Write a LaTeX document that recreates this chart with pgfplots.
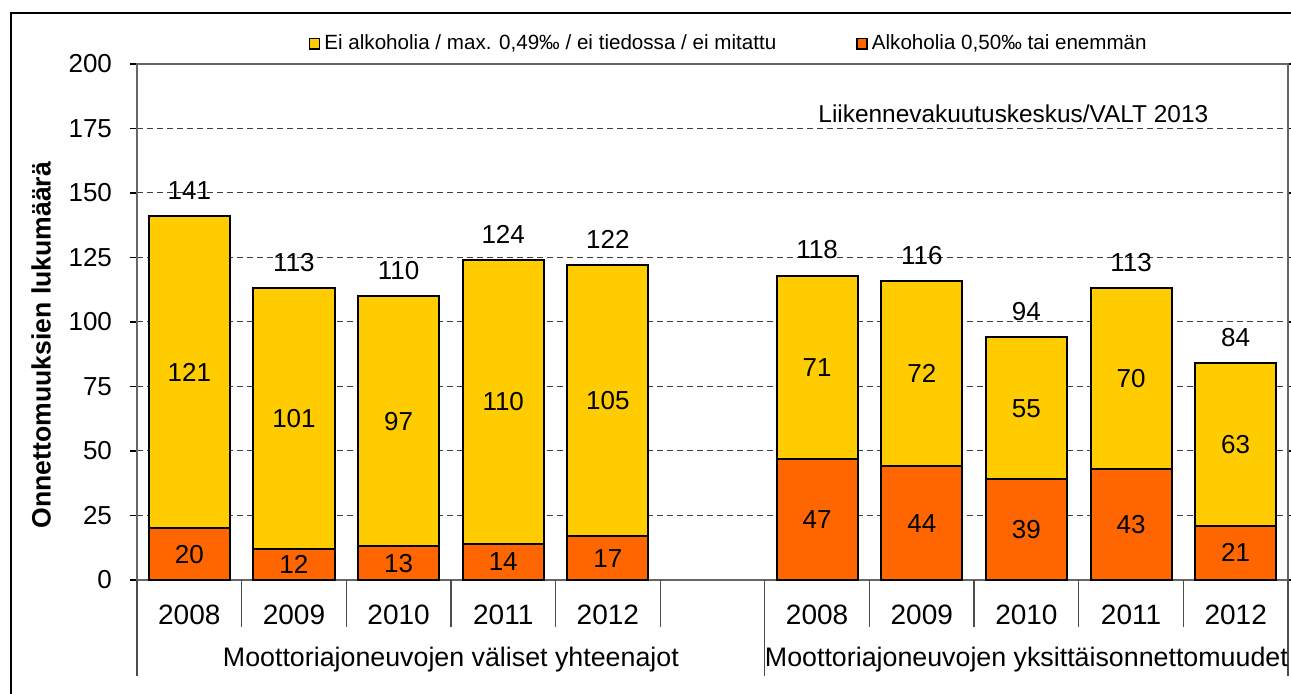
\documentclass[border=0pt]{standalone}
\usepackage{pgfplots}
\pgfplotsset{compat=1.18}
\usepackage{fontspec}
\setmainfont{Liberation Sans}
\definecolor{ylw}{HTML}{FFCC00}
\definecolor{org}{HTML}{FF6600}
\begin{document}
\begin{tikzpicture}
\useasboundingbox (0,0) rectangle (645.5pt,347pt);
\draw[black, line width=0.8pt] (5.5pt,-2pt) -- (5.5pt,340.5pt) -- (648pt,340.5pt);
\begin{axis}[
  at={(68.5pt,57pt)}, anchor=south west,
  width=575.5pt, height=258pt, scale only axis,
  xmin=-0.5, xmax=10.5, ymin=0, ymax=200,
  ytick={0,25,...,200},
  xtick={0,1,2,3,4,6,7,8,9,10},
  xticklabels={2008,2009,2010,2011,2012,2008,2009,2010,2011,2012},
  x tick style={draw=none},
  y tick style={black, line width=0.6pt},
  tick align=outside, major tick length=3.5pt,
  ymajorgrids, grid style={densely dashed, black!75, line width=0.5pt},
  axis line style={black!60, line width=0.6pt},
  yticklabel style={font=\fontsize{13}{15}\selectfont, xshift=-5.5pt},
  xticklabel style={font=\fontsize{14}{16}\selectfont, yshift=-5.5pt},
  /pgf/number format/assume math mode=true,
  ylabel={Onnettomuuksien lukumäärä},
  ylabel style={font=\fontsize{13.3}{15}\selectfont\bfseries, at={(axis description cs:-0.0834,0.455)}, anchor=center},
  clip=false,
  legend style={at={(0.515,1.039)}, anchor=center, draw=none, fill=none,
    font=\fontsize{10.3}{12}\selectfont, legend columns=2,
    /tikz/every even column/.append style={column sep=38pt}},
  legend image code/.code={\draw[#1, draw=black, line width=0.8pt] (0pt,-2.6pt) rectangle (5pt,2.6pt);},
]
\addplot[ybar, bar width=0.775, bar shift=0pt, fill=ylw, draw=black, line width=1pt]
  coordinates {(0,141)(1,113)(2,110)(3,124)(4,122)(6,118)(7,116)(8,94)(9,113)(10,84)};
\addlegendentry{Ei alkoholia / max. 0,49‰ / ei tiedossa / ei mitattu}
\addplot[ybar, bar width=0.775, bar shift=0pt, fill=org, draw=black, line width=1pt]
  coordinates {(0,20)(1,12)(2,13)(3,14)(4,17)(6,47)(7,44)(8,39)(9,43)(10,21)};
\addlegendentry{Alkoholia 0,50‰ tai enemmän}
% totals
\addplot[draw=none, mark=none, forget plot, nodes near coords, point meta=explicit symbolic,
  every node near coord/.style={anchor=base, yshift=8.3pt, font=\fontsize{13}{15}\selectfont, text=black}]
  coordinates {(0,141)[141](1,113)[113](2,110)[110](3,124)[124](4,122)[122](6,118)[118](7,116)[116](8,94)[94](9,113)[113](10,84)[84]};
% yellow segment labels
\addplot[draw=none, mark=none, forget plot, nodes near coords, point meta=explicit symbolic,
  every node near coord/.style={anchor=center, font=\fontsize{13}{15}\selectfont, text=black}]
  coordinates {(0,80.5)[121](1,62.5)[101](2,61.5)[97](3,69)[110](4,69.5)[105](6,82.5)[71](7,80)[72](8,66.5)[55](9,78)[70](10,52.5)[63]};
% orange segment labels
\addplot[draw=none, mark=none, forget plot, nodes near coords, point meta=explicit symbolic,
  every node near coord/.style={anchor=center, font=\fontsize{13}{15}\selectfont, text=black}]
  coordinates {(0,10)[20](1,6)[12](2,6.5)[13](3,7)[14](4,8.5)[17](6,23.5)[47](7,22)[44](8,19.5)[39](9,21.5)[43](10,10.5)[21]};
\pgfplotsinvokeforeach{0.5,1.5,2.5,3.5,4.5,6.5,7.5,8.5,9.5}{
  \draw[black!70, line width=0.6pt] (axis cs:#1,0) -- ++(0pt,-23.5pt);
}
\pgfplotsinvokeforeach{-0.5,5.5,10.5}{
  \draw[black!70, line width=0.6pt] (axis cs:#1,0) -- ++(0pt,-48pt);
}
\node[font=\fontsize{13.4}{15}\selectfont] at ([yshift=-40pt]axis cs:2.5,0) {Moottoriajoneuvojen väliset yhteenajot};
\node[font=\fontsize{13.4}{15}\selectfont] at ([yshift=-40pt]axis cs:8,0) {Moottoriajoneuvojen yksittäisonnettomuudet};
\node[font=\fontsize{12.2}{14}\selectfont] at (axis cs:7.875,180.6) {Liikennevakuutuskeskus/VALT 2013};
\end{axis}
\end{tikzpicture}
\end{document}
